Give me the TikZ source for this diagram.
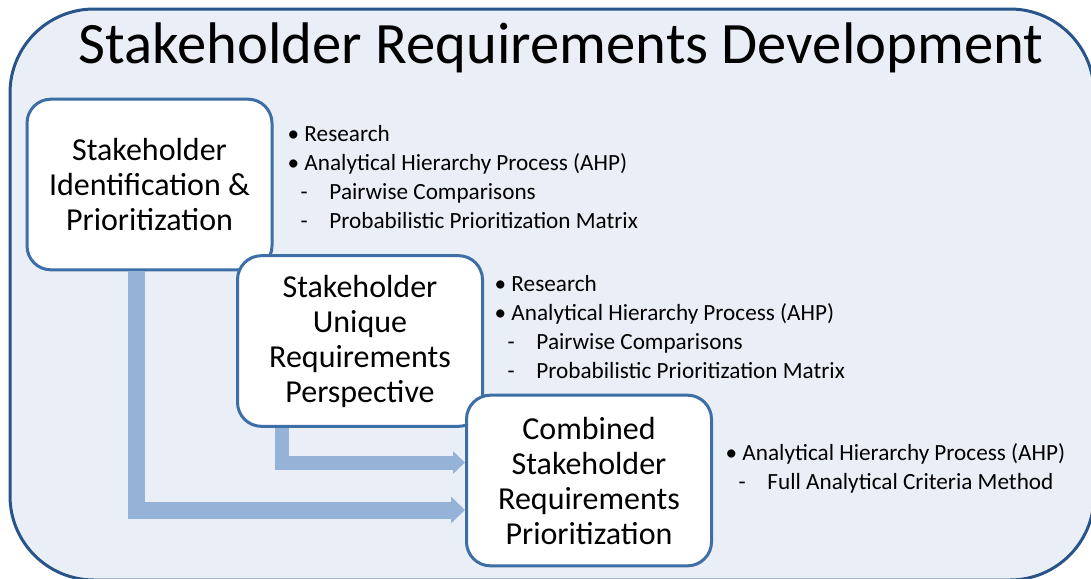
\documentclass[tikz,border=0pt]{standalone}
\usepackage{fontspec}
\setmainfont{Carlito}
\usetikzlibrary{arrows.meta,calc}

\definecolor{panelfill}{RGB}{234,239,247}
\definecolor{panelline}{RGB}{41,84,138}
\definecolor{boxline}{RGB}{62,110,166}
\definecolor{flowfill}{RGB}{149,179,215}

\newcommand{\listpt}[1]{\makebox[12.75pt][l]{\textbullet}#1}
\newcommand{\listsub}[1]{\hspace*{9.75pt}\makebox[21.75pt][l]{-}#1}

\tikzset{every picture/.style={line width=0.75pt}}
\tikzset{
  stepbox/.style={draw=boxline, fill=white, line width=2.25pt, rounded corners=18pt,
    minimum width=183.75pt, minimum height=128pt, inner sep=0pt, align=center,
    font=\fontsize{24}{26.25}\selectfont},
  bulletlist/.style={anchor=base west, inner sep=0pt, align=left,
    font=\fontsize{17.4}{21.75}\selectfont},
  flowarrow/.style={draw=flowfill, line cap=butt, line join=miter}
}

\begin{document}
\begin{tikzpicture}[x=0.75pt,y=0.75pt,yscale=-1,xscale=1]
\clip (0,0) rectangle (1091,578);

%Rounded Rect: background panel
\draw [draw=panelline, fill=panelfill, line width=2.25pt, rounded corners=63pt] (10,9) rectangle (1094,580) ;

% Text Node
\node [anchor=base, inner sep=0pt, font=\fontsize{44}{52}\selectfont] (title) at (561,63) {Stakeholder Requirements Development};

%Rounded Rect: steps
\node [stepbox] (idbox) at (149.5,184.5) {Stakeholder\\Identification \&\\Prioritization};
\node [stepbox] (uniqbox) at (360,341) {Stakeholder\\Unique\\Requirements\\Perspective};
\node [stepbox] (combbox) at (589,480.5) {Combined\\Stakeholder\\Requirements\\Prioritization};

% Text Node (anchored at the last line)
\node [bulletlist] (idlist) at (287,228) {\listpt{Research}\\\listpt{Analytical Hierarchy Process (AHP)}\\\listsub{Pairwise Comparisons}\\\listsub{Probabilistic Prioritization Matrix}};
% Text Node
\node [bulletlist] (uniqlist) at (494,378) {\listpt{Research}\\\listpt{Analytical Hierarchy Process (AHP)}\\\listsub{Pairwise Comparisons}\\\listsub{Probabilistic Prioritization Matrix}};
% Text Node
\node [bulletlist] (comblist) at (725,489) {\listpt{Analytical Hierarchy Process (AHP)}\\\listsub{Full Analytical Criteria Method}};

%Flow arrows
\draw [flowarrow, line width=12.75pt, -{Triangle[length=10.5pt,width=19.5pt]}] ($(idbox.south)+(-13.5,0)$) |- ($(combbox.west)+(0,29.5)$) ;
\draw [flowarrow, line width=10.5pt, -{Triangle[length=9pt,width=16.5pt]}] ($(uniqbox.south)+(-78.5,0)$) |- ($(combbox.west)+(0,-18)$) ;

\end{tikzpicture}
\end{document}
